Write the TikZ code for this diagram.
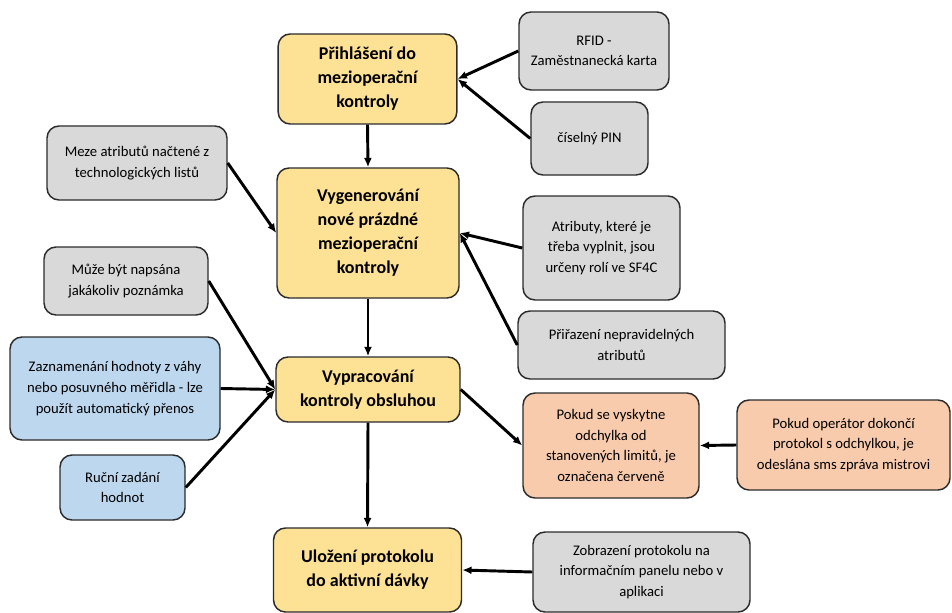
\documentclass[tikz,border=0pt]{standalone}
\usepackage{fontspec}
\setmainfont{Carlito}
\usetikzlibrary{arrows.meta}

\definecolor{krokfill}{HTML}{FDE194}
\definecolor{infofill}{HTML}{D9D9D9}
\definecolor{merfill}{HTML}{BDD7EE}
\definecolor{chybafill}{HTML}{F8CBAD}
\definecolor{ramec}{HTML}{2B2B2B}

\tikzstyle{box}=[draw=ramec,line width=1.1pt,rounded corners=9pt,align=center,inner sep=2pt]
\tikzstyle{krok}=[box,fill=krokfill,font=\fontsize{13.5}{18}\selectfont\bfseries]
\tikzstyle{info}=[box,fill=infofill,font=\fontsize{11}{15.5}\selectfont]
\tikzstyle{mereni}=[info,fill=merfill]
\tikzstyle{chyba}=[info,fill=chybafill]
\tikzstyle{edge}=[draw,line width=2.2pt,-{Latex[length=7pt,width=6pt]}]

\begin{document}
\begin{tikzpicture}[x=0.75pt,y=-0.75pt]
     \useasboundingbox (0,0) rectangle (952,613);
     % Main steps of the inspection
     \node[krok,minimum width=134pt,minimum height=67.5pt] (prihlaseni) at (367.5,79)
       {Přihlášení do\\mezioperační\\kontroly};
     \node[krok,minimum width=136.5pt,minimum height=97.5pt] (vygenerovani) at (368,233)
       {Vygenerování\\nové prázdné\\mezioperační\\kontroly};
     \node[krok,minimum width=138pt,minimum height=48.75pt] (vypracovani) at (368,389.5)
       {Vypracování\\kontroly obsluhou};
     \node[krok,minimum width=141pt,minimum height=63pt] (ulozeni) at (367.5,570)
       {Uložení protokolu\\do aktivní dávky};

     % Notes around the steps
     \node[info,minimum width=112.5pt,minimum height=58.5pt] (rfid) at (594,51)
       {RFID -\\Zaměstnanecká karta};
     \node[info,minimum width=87.75pt,minimum height=54.75pt] (pin) at (589.5,138.5)
       {číselný PIN};
     \node[info,minimum width=135pt,minimum height=55.5pt] (meze) at (137,163)
       {Meze atributů načtené z\\technologických listů};
     \node[info,minimum width=117.75pt,minimum height=78pt] (atributy) at (601.5,248)
       {Atributy, které je\\třeba vyplnit, jsou\\určeny rolí ve SF4C};
     \node[info,minimum width=123pt,minimum height=51pt] (poznamka) at (126,281)
       {Může být napsána\\jakákoliv poznámka};
     \node[info,minimum width=155.25pt,minimum height=51pt] (prirazeni) at (621.5,345)
       {Přiřazení nepravidelných\\atributů};
     \node[mereni,minimum width=157.5pt,minimum height=77.25pt] (vaha) at (115,388.5)
       {Zaznamenání hodnoty z váhy\\nebo posuvného měřidla - lze\\použít automatický přenos};
     \node[mereni,minimum width=93.75pt,minimum height=48.75pt] (rucni) at (122.5,487.5)
       {Ruční zadání\\hodnot};
     \node[chyba,minimum width=132pt,minimum height=78.75pt] (odchylka) at (611,445.5)
       {Pokud se vyskytne\\odchylka od\\stanovených limitů, je\\označena červeně};
     \node[chyba,minimum width=159.75pt,minimum height=67.5pt] (sms) at (843.5,445)
       {Pokud operátor dokončí\\protokol s odchylkou, je\\odeslána sms zpráva mistrovi};
     \node[info,minimum width=162.75pt,minimum height=60pt] (panel) at (641.5,572)
       {Zobrazení protokolu na\\informačním panelu nebo v\\aplikaci};

     % Connect the boxes
     \foreach \source/\dest in {prihlaseni.south/vygenerovani.north,
       vygenerovani.south/vypracovani.north, vypracovani.south/ulozeni.north,
       rfid.west/prihlaseni.east, pin.west/prihlaseni.east,
       meze.east/vygenerovani.west, atributy.west/vygenerovani.east,
       prirazeni.west/vygenerovani.east, poznamka.east/vypracovani.west,
       vaha.east/vypracovani.west, rucni.east/vypracovani.west,
       vypracovani.east/odchylka.west, sms.west/odchylka.east,
       panel.west/ulozeni.east}
     \path[edge] (\source) -- (\dest);
\end{tikzpicture}
\end{document}
